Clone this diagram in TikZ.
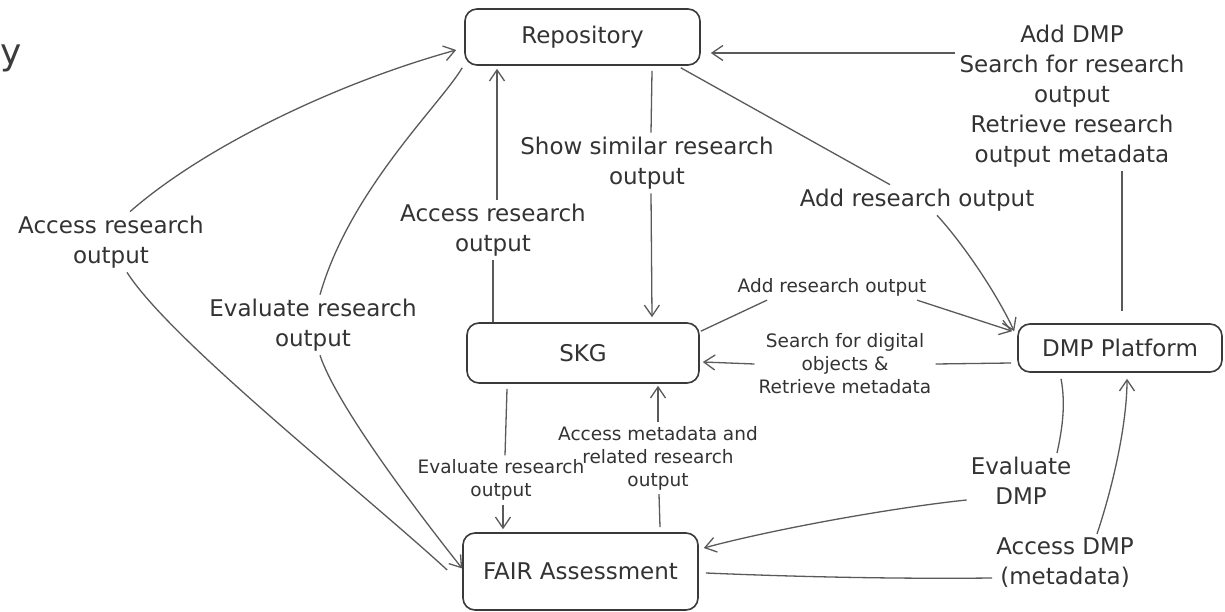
\documentclass[tikz,border=0pt]{standalone}
\usepackage{fontspec}
\setmainfont{DejaVu Sans}
\usetikzlibrary{arrows.meta}
\definecolor{txtc}{HTML}{333333}
\definecolor{linec}{HTML}{5A5A5A}
\definecolor{boxc}{HTML}{3A3A3A}
\definecolor{titlec}{HTML}{3C3C3C}
\newcommand\lblbig{\fontsize{23}{30}\selectfont}
\newcommand\lblsmall{\fontsize{18.5}{23}\selectfont}
\begin{document}
\begin{tikzpicture}[x=1pt,y=-1pt,
  boxnode/.style={draw=boxc, line width=1.6pt, rounded corners=12pt, font=\lblbig, text=txtc, inner sep=0pt},
  biglbl/.style={font=\lblbig, align=center, text=txtc, inner sep=4pt},
  smalllbl/.style={font=\lblsmall, align=center, text=txtc, inner sep=4pt},
  conn/.style={draw=linec, line width=1.3pt},
  arr/.style={conn, -{Straight Barb[length=11pt,width=15pt]}}]
\useasboundingbox (0,0) rectangle (1225,612);
\fill[white] (0,0) rectangle (1225,612);

% title fragment
\node[font=\fontsize{36}{40}\selectfont, text=titlec, anchor=base west, inner sep=0pt] (ttl) at (0.5,65) {y};

% boxes
\node[boxnode, minimum width=235pt, minimum height=56pt] (repo) at (582.5,37) {Repository};
\node[boxnode, minimum width=232pt, minimum height=60pt] (skg) at (583,353) {SKG};
\node[boxnode, minimum width=235pt, minimum height=77pt] (fair) at (580.5,571.5) {FAIR Assessment};
\node[boxnode, minimum width=204pt, minimum height=48pt] (dmp) at (1120,348) {DMP Platform};

% labels
\node[biglbl] (lA) at (111,242) {Access research\\output};
\node[biglbl] (lB) at (313,325) {Evaluate research\\output};
\node[biglbl] (lC) at (493,230) {Access research\\output};
\node[biglbl] (lD) at (647,163) {Show similar research\\output};
\node[biglbl] (lE) at (917,200) {Add research output};
\node[biglbl] (lF) at (1072,96) {Add DMP\\Search for research\\output\\Retrieve research\\output metadata};
\node[biglbl] (lG) at (1021,481) {Evaluate\\DMP};
\node[biglbl] (lH) at (1065,563) {Access DMP\\(metadata)};
\node[smalllbl] (sA) at (832,287) {Add research output};
\node[smalllbl] (sB) at (845,364) {Search for digital\\objects \&\\Retrieve metadata};
\node[smalllbl] (sC) at (501,480) {Evaluate research\\output};
\node[smalllbl] (sD) at (658,458) {Access metadata and\\related research\\output};

% A: FAIR -> Repository (Access research output)
\draw[conn] ([xshift=-15pt,yshift=1.5pt]fair.west) .. controls (360,490) and (170,340) .. ([xshift=16pt]lA.south);
\draw[arr] ([xshift=19pt]lA.north) .. controls (200,150) and (330,85) .. ([xshift=-8pt,yshift=-13pt]repo.west);

% B: Repository -> FAIR (Evaluate research output)
\draw[conn] ([xshift=-2pt,yshift=-2pt]repo.south west) .. controls (440,105) and (350,190) .. ([xshift=7pt]lB.north);
\draw[arr] ([xshift=7pt]lB.south) .. controls (335,400) and (400,490) .. ([yshift=3pt]fair.west);

% C: SKG -> Repository (Access research output)
\draw[conn] ([xshift=-90pt]skg.north) -- (lC.south);
\draw[arr] ([xshift=4pt]lC.north) -- ([xshift=-85.5pt,yshift=-3pt]repo.south);

% D: Repository -> SKG (Show similar research output)
\draw[conn] ([xshift=69.5pt,yshift=-5pt]repo.south) -- ([xshift=4pt]lD.north);
\draw[arr] ([xshift=4pt]lD.south) -- ([xshift=69pt,yshift=5pt]skg.north);

% E: Repository -> DMP (Add research output)
\draw[conn] ([xshift=-20pt,yshift=-2pt]repo.south east) -- ([xshift=-27pt]lE.north);
\draw[arr] ([xshift=20pt]lE.south) .. controls (960,240) and (995,290) .. ([xshift=-3pt,yshift=-8pt]dmp.north west);

% F: DMP -> Repository (Add DMP ...)
\draw[conn] ([xshift=2pt,yshift=12pt]dmp.north) -- ([xshift=50pt]lF.south);
\draw[arr] ([yshift=43pt]lF.west) -- ([xshift=10pt,yshift=-16pt]repo.east);

% G: SKG -> DMP (Add research output, small)
\draw[conn] ([xshift=1pt,yshift=-9pt]skg.north east) -- ([xshift=-65pt]sA.south);
\draw[arr] ([xshift=85pt]sA.south) -- ([xshift=-5pt,yshift=-8pt]dmp.north west);

% H: DMP -> SKG (Search for digital objects)
\draw[conn] ([xshift=-6pt,yshift=-15pt]dmp.west) -- (sB.east);
\draw[arr] (sB.west) -- ([xshift=3pt,yshift=-9pt]skg.east);

% I: SKG -> FAIR (Evaluate research output, small)
\draw[conn] ([xshift=-76pt,yshift=-5pt]skg.south) -- ([xshift=4pt]sC.north);
\draw[arr] ([xshift=2pt]sC.south) -- ([xshift=-77.5pt,yshift=3pt]fair.north);

% J: FAIR -> SKG (Access metadata and related research output)
\draw[conn] ([xshift=79.5pt,yshift=5pt]fair.north) -- ([xshift=1pt]sD.south);
\draw[arr] (sD.north) -- ([xshift=75pt,yshift=-2pt]skg.south);

% K: DMP -> FAIR (Evaluate DMP)
\draw[conn] ([xshift=-59pt,yshift=-6pt]dmp.south) .. controls (1066,405) and (1062,430) .. ([xshift=36pt]lG.north);
\draw[arr] ([yshift=-19pt]lG.west) .. controls (890,508) and (770,530) .. ([xshift=5pt,yshift=23.5pt]fair.east);

% L: FAIR -> DMP (Access DMP (metadata))
\draw[conn] ([xshift=7pt,yshift=-1.5pt]fair.east) .. controls (800,577) and (900,579) .. ([yshift=-15pt]lH.west);
\draw[arr] ([xshift=32pt]lH.north) .. controls (1115,480) and (1127,420) .. ([xshift=7pt,yshift=-6pt]dmp.south);
\end{tikzpicture}
\end{document}
